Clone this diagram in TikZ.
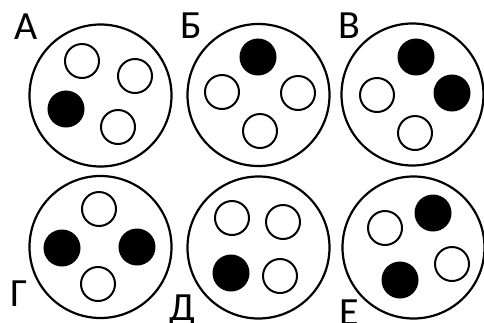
\documentclass[tikz,border=0pt]{standalone}
\usepackage{fontspec}
\setmainfont{Carlito}
\begin{document}
\begin{tikzpicture}[x=1pt,y=-1pt,
  big/.style={circle,draw=black,line width=2.2pt,minimum size=142pt,inner sep=0pt},
  hole/.style={circle,draw=black,line width=2pt,minimum size=34pt,inner sep=0pt},
  pin/.style={circle,draw=black,fill=black,line width=2pt,minimum size=35pt,inner sep=0pt},
  lab/.style={anchor=base,inner sep=0pt,font=\fontsize{40pt}{40pt}\selectfont}]
\useasboundingbox (0,0) rectangle (484,322);
\begin{scope}
\clip (0,0) rectangle (484,322);
% А
\node[big] (A) at (100.5,95.5) {};
\node[hole] (A1) at (82,61) {};
\node[hole] (A2) at (135,76) {};
\node[pin]  (A3) at (66,109) {};
\node[hole] (A4) at (118,127) {};
\node[lab] (LA) at (26,39) {А};
% Б
\node[big] (B) at (258.5,95) {};
\node[pin]  (B1) at (258,57) {};
\node[hole] (B2) at (222,92) {};
\node[hole] (B3) at (298,93) {};
\node[hole] (B4) at (260,131) {};
\node[lab] (LB) at (191,38) {Б};
% В
\node[big] (V) at (412.5,94.5) {};
\node[pin]  (V1) at (416,57) {};
\node[pin]  (V2) at (452,93) {};
\node[hole] (V3) at (377,95) {};
\node[hole] (V4) at (415,133) {};
\node[lab] (LV) at (349,38) {В};
% Г
\node[big] (G) at (100.5,247) {};
\node[hole] (G1) at (99,209) {};
\node[pin]  (G2) at (62,248) {};
\node[pin]  (G3) at (137,247) {};
\node[hole] (G4) at (98,284) {};
\node[lab] (LG) at (19.5,306) {Г};
% Д
\node[big] (D) at (258.5,247.5) {};
\node[hole] (D1) at (232,218) {};
\node[hole] (D2) at (283,222) {};
\node[pin]  (D3) at (231,273) {};
\node[hole] (D4) at (280,276) {};
\node[lab] (LD) at (182,320) {Д};
% Е
\node[big] (E) at (413.5,247.5) {};
\node[hole] (E1) at (385,228) {};
\node[pin]  (E2) at (433,213) {};
\node[hole] (E3) at (452,264) {};
\node[pin]  (E4) at (400,280) {};
\node[lab] (LE) at (349,325) {Е};
\end{scope}
\end{tikzpicture}
\end{document}
